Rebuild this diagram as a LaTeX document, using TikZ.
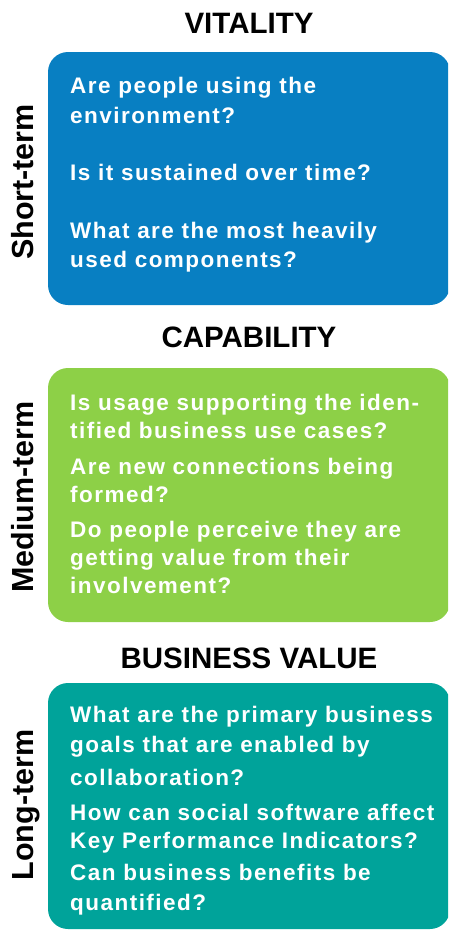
\documentclass[tikz,border=0pt]{standalone}
\usepackage{fontspec}
\setmainfont{Liberation Sans}
\newfontfamily\bodyfont{Liberation Sans}[LetterSpace=6.5]
\definecolor{vblue}{RGB}{8,127,194}
\definecolor{cgreen}{RGB}{141,208,71}
\definecolor{bteal}{RGB}{0,163,154}
\begin{document}
\begin{tikzpicture}[x=1pt,y=-1pt,
  panel/.style={rounded corners=20pt, inner sep=0pt, outer sep=0pt, anchor=north west, minimum width=402pt},
  title/.style={font=\fontsize{29.5}{32}\selectfont\bfseries, anchor=base, inner sep=0pt, text=black},
  side/.style={font=\fontsize{30.5}{32}\selectfont\bfseries, anchor=base, rotate=90, inner sep=0pt, text=black},
  q/.style={font=\bodyfont\fontsize{22.5}{#1}\selectfont\bfseries, text=white, align=left, anchor=base west, inner sep=0pt},
  q/.default=29]
\useasboundingbox (0,0) rectangle (448,930);
\clip (0,0) rectangle (448,930);
% panels
\node[panel, fill=vblue, minimum height=253pt] (b1) at (48,52) {};
\node[panel, fill=cgreen, minimum height=254pt] (b2) at (48,368) {};
\node[panel, fill=bteal, minimum height=246pt] (b3) at (48,683) {};
% titles
\node[title] (t1) at (249,33) {VITALITY};
\node[title] (t2) at (249,347) {CAPABILITY};
\node[title] (t3) at (249,668) {BUSINESS VALUE};
% side labels
\node[side] (s1) at (33,182) {Short-term};
\node[side] (s2) at (33,497) {Medium-term};
\node[side] (s3) at (33,805) {Long-term};
% box 1 (anchor at the baseline of the last line)
\node[q=30] (q11) at (70,123) {Are people using the\\environment?};
\node[q] (q12) at (70,180) {Is it sustained over time?};
\node[q] (q13) at (70,267) {What are the most heavily\\used components?};
% box 2
\node[q=28] (q21) at (70,438) {Is usage supporting the iden-\\tified business use cases?};
\node[q=28] (q22) at (70,502) {Are new connections being\\formed?};
\node[q=28] (q23) at (70,593) {Do people perceive they are\\getting value from their\\involvement?};
% box 3
\node[q=30] (q31) at (70,785) {What are the primary business\\goals that are enabled by\\[3pt]collaboration?};
\node[q=28] (q32) at (70,848) {How can social software affect\\Key Performance Indicators?};
\node[q=30] (q33) at (70,910) {Can business benefits be\\quantified?};
\end{tikzpicture}
\end{document}
